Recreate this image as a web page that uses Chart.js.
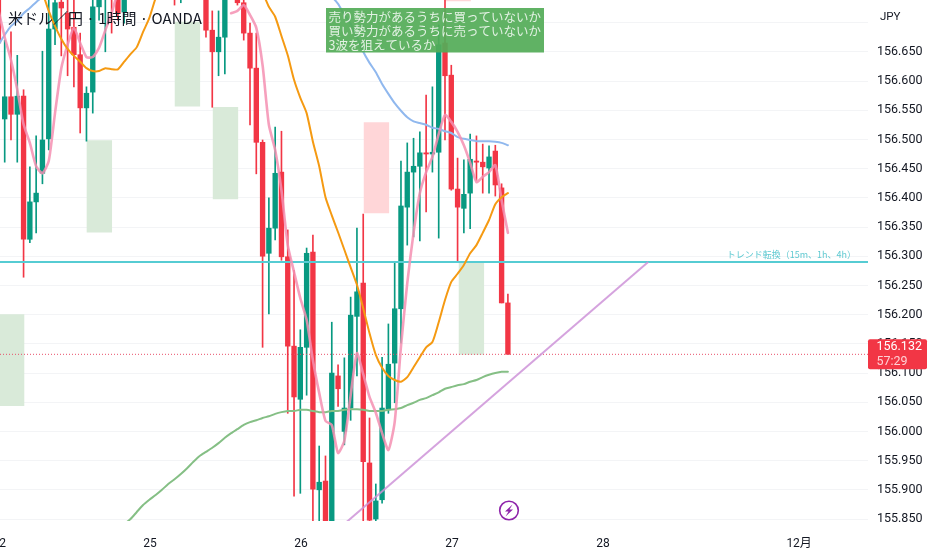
<!DOCTYPE html>
<html lang="ja"><head><meta charset="utf-8">
<style>html,body{margin:0;padding:0;background:#fff}canvas{display:block}</style>
<script src="https://cdn.jsdelivr.net/npm/chart.js@4"></script></head>
<body><canvas id="c" width="932" height="550"></canvas>
<script>
const N = null;
const opens = [156.739,156.535,156.573,156.543,156.574,156.329,156.393,156.442,156.501,156.689,
 156.735,156.716,156.692,156.645,156.554,156.581,156.727,156.756,156.773,156.756,
 156.718,N,N,N,N,N,N,N,156.80,156.76,
 N,N,N,156.78,156.687,156.650,156.675,N,156.747,156.734,
 156.682,156.622,156.495,156.305,156.348,156.444,156.299,156.146,156.055,156.144,
 156.307,155.900,155.915,155.831,156.095,156.000,156.040,156.197,156.254,155.946,
 155.850,155.883,156.038,156.117,156.210,156.384,156.444,156.454,156.477,156.475,
 156.478,156.665,156.610,156.415,156.382,156.408,156.463,156.461,156.451,156.480,
 156.417,156.220];
const highs = [156.74,156.670,156.684,156.644,156.585,156.453,156.506,156.651,156.74,156.75,
 156.76,156.75,156.75,156.682,156.590,156.75,156.77,156.80,156.80,156.78,
 156.78,N,N,N,N,N,N,N,156.82,156.82,
 N,N,N,156.80,156.72,156.72,156.80,N,156.77,156.76,
 156.699,156.682,156.499,156.400,156.521,156.514,156.345,156.276,156.174,156.314,
 156.336,155.975,155.958,156.187,156.114,156.126,156.230,156.348,156.372,156.023,
 155.910,156.127,156.184,156.288,156.463,156.494,156.502,156.513,156.576,156.590,
 156.696,156.74,156.627,156.468,156.465,156.509,156.506,156.492,156.489,156.490,
 156.424,156.235];
const lows = [156.636,156.461,156.499,156.461,156.264,156.323,156.340,156.424,156.482,156.662,
 156.643,156.609,156.590,156.511,156.497,156.545,156.704,156.650,156.682,156.704,
 156.699,N,N,N,N,N,N,N,156.730,156.734,
 N,N,N,156.675,156.555,156.609,156.612,N,156.730,156.670,
 156.525,156.441,156.144,156.201,156.328,156.293,156.031,155.889,155.894,156.062,
 155.843,155.843,155.82,155.82,156.043,155.977,156.019,156.095,155.843,155.83,
 155.83,155.877,156.031,156.049,156.151,156.319,156.333,156.326,156.376,156.444,
 156.331,156.499,156.413,156.290,156.340,156.347,156.430,156.408,156.408,156.403,
 156.220,156.132];
const closes = [156.665,156.573,156.543,156.574,156.329,156.393,156.408,156.499,156.689,156.734,
 156.725,156.689,156.645,156.554,156.579,156.727,156.747,156.790,156.747,156.716,
 156.764,N,N,N,N,N,N,N,156.76,156.80,
 N,N,N,156.687,156.650,156.675,156.76,N,156.734,156.682,
 156.622,156.495,156.300,156.348,156.442,156.299,156.146,156.059,156.144,156.305,
 155.901,155.913,155.831,156.100,156.073,156.040,156.199,156.239,155.948,155.848,
 155.881,156.040,156.115,156.210,156.386,156.444,156.454,156.477,156.475,156.478,
 156.662,156.609,156.415,156.384,156.406,156.466,156.461,156.453,156.470,156.422,
 156.220,156.132];
const pinkMA = [156.722,156.675,156.636,156.585,156.526,156.494,156.454,156.442,156.463,156.545,
 156.622,156.662,156.691,156.665,156.641,156.641,156.657,156.687,156.716,156.751,
 156.756,N,N,N,N,N,N,N,N,N,
 N,N,N,N,N,N,N,156.716,156.720,156.730,
 156.713,156.691,156.627,156.525,156.482,156.413,156.319,156.273,156.228,156.191,
 156.122,156.066,156.018,156.011,155.963,155.984,156.062,156.134,156.098,156.059,
 156.032,155.997,155.968,156.016,156.145,156.254,156.340,156.408,156.444,156.470,
 156.509,156.542,156.530,156.513,156.490,156.460,156.427,156.436,156.444,156.456,
 156.396,156.340];
const orangeMA = [N,N,N,N,N,N,N,156.752,156.720,156.694,
 156.672,156.655,156.643,156.633,156.622,156.617,156.617,156.622,156.620,156.620,
 156.633,156.646,156.658,156.684,156.708,156.742,156.764,N,N,N,
 N,N,N,N,N,N,N,N,N,N,
 N,156.764,156.751,156.727,156.710,156.677,156.644,156.602,156.571,156.545,
 156.496,156.454,156.401,156.370,156.341,156.311,156.281,156.251,156.211,156.168,
 156.131,156.109,156.095,156.088,156.085,156.093,156.110,156.127,156.144,156.153,
 156.187,156.225,156.256,156.270,156.285,156.305,156.319,156.340,156.362,156.389,
 156.401,156.408];
const blueMA = [156.662,156.679,156.694,156.703,156.716,156.725,156.735,156.744,N,N,
 N,N,N,N,N,N,N,N,N,N,
 N,N,N,N,N,N,N,N,N,N,
 N,N,N,N,N,N,N,N,N,N,
 N,N,N,N,N,N,N,N,N,N,
 N,N,156.752,156.744,156.732,156.713,156.698,156.675,156.650,156.631,
 156.615,156.595,156.578,156.562,156.549,156.538,156.531,156.528,156.525,156.520,
 156.518,156.514,156.511,156.504,156.501,156.499,156.497,156.497,156.497,156.496,
 156.494,156.490];
const greenMA = [N,N,N,N,N,N,N,N,N,N,
 N,N,N,N,N,N,N,N,N,N,
 155.841,155.850,155.862,155.874,155.883,155.891,155.900,155.910,155.918,155.927,
 155.937,155.948,155.958,155.965,155.972,155.980,155.989,155.997,156.004,156.011,
 156.016,156.019,156.023,156.026,156.030,156.033,156.035,156.035,156.037,156.037,
 156.035,156.033,156.033,156.035,156.035,156.037,156.038,156.038,156.037,156.035,
 156.035,156.035,156.037,156.038,156.040,156.045,156.049,156.054,156.057,156.062,
 156.067,156.073,156.076,156.079,156.081,156.085,156.088,156.093,156.097,156.100,
 156.102,156.102];
const greenZoneX = [2.1,16.05,30.05,36.1,75.2];
const greenZoneLow = [156.044,156.341,156.557,156.398,156.132];
const greenZoneHigh = [156.200,156.498,156.701,156.555,156.288];
const redZoneX = [60.1,73.1];
const redZoneLow = [156.374,156.737];
const redZoneHigh = [156.529,156.80];
const supportX = [55.26,103.3];
const supportY = [155.844,156.290];
const trendLevel = 156.29;
const lastPrice = 156.132;
const xMin = 0.253, xMax = 138.25;
const dayTicks = [0.65,24.1,48.1,72.1,96.1,127.3];
const dayLabels = ['2','25','26','27','28','12月'];

const RED='#f23645', GREEN='#089981', ui='Roboto, "Noto Sans CJK JP", sans-serif';
const jp='"Noto Sans CJK JP", sans-serif';
const idx = opens.map((_,i)=>i);
const live = idx.filter(i=>opens[i]!==null);
const colorOf = i => closes[i]>=opens[i]?GREEN:RED;
const noPad = s=>{s.paddingLeft=0;s.paddingRight=0;s.paddingTop=0;s.paddingBottom=0;};
const series = (arr,color,width,order)=>({type:'line',data:idx.map(i=>({x:i,y:arr[i]})),borderColor:color,borderWidth:width,
  pointRadius:0,tension:0.2,order,spanGaps:false,borderJoinStyle:'round',borderCapStyle:'round'});
const straight = (xs,ys,color,width,order,dash)=>({type:'line',data:xs.map((x,i)=>({x,y:ys[i]})),borderColor:color,borderWidth:width,
  pointRadius:0,tension:0,order,borderDash:dash||[]});
const zones = (xs,lo,hi,color)=>({type:'bar',grouped:false,barThickness:24.7,order:10,backgroundColor:color,borderWidth:0,
  data:xs.map((x,i)=>({x,y:[lo[i],hi[i]]}))});

const overlay = {id:'overlay',afterDraw(ch){
  const c=ch.ctx, y=ch.scales.y, a=ch.chartArea;
  c.save();
  c.textBaseline='middle'; c.textAlign='left';
  c.fillStyle='rgba(84,172,88,0.93)'; c.fillRect(326,8,218,44.5);
  c.fillStyle='rgba(255,255,255,0.82)'; c.font='12.5px '+jp;
  ['売り勢力があるうちに買っていないか','買い勢力があるうちに売っていないか','3波を狙えているか']
    .forEach((t,i)=>c.fillText(t,328.5,17.5+i*14));
  c.fillStyle='#131722'; c.font='15px '+jp;
  c.fillText('米ドル／円 · 1時間 · OANDA',8,18);
  c.font='11.5px '+ui; c.fillText('JPY',880,17);
  c.fillStyle='#5fc9d1'; c.font='9px '+jp; c.textAlign='right';
  c.fillText('トレンド転換（15m、1h、4h）',856,y.getPixelForValue(trendLevel)-7);
  const py=y.getPixelForValue(lastPrice);
  c.fillStyle=RED; c.beginPath(); c.roundRect(a.right,py-15,59,30,2); c.fill();
  c.textAlign='left'; c.fillStyle='#fff'; c.font='12.5px '+ui; c.fillText(lastPrice.toFixed(3),876.5,py-7);
  c.fillStyle='#ffd0d4'; c.fillText('57:29',876.5,py+8);
  c.strokeStyle='#8e24aa'; c.lineWidth=1.6; c.beginPath(); c.arc(509,510.5,9.3,0,Math.PI*2); c.stroke();
  c.fillStyle='#8e24aa'; c.beginPath();
  [[512.5,504.5],[505,511.5],[508.5,511.5],[505.5,516.5],[513,509.5],[509.5,509.5]].forEach((p,i)=>i?c.lineTo(p[0],p[1]):c.moveTo(p[0],p[1]));
  c.closePath(); c.fill();
  c.restore();
}};

new Chart(document.getElementById('c'),{
  type:'bar',
  data:{datasets:[
    zones(greenZoneX,greenZoneLow,greenZoneHigh,'#d9ead9'),
    zones(redZoneX,redZoneLow,redZoneHigh,'#ffd6d8'),
    {type:'bar',grouped:false,barThickness:1,order:6,borderWidth:0,
     backgroundColor:live.map(colorOf),data:live.map(i=>({x:i,y:[lows[i],highs[i]]}))},
    {type:'bar',grouped:false,barThickness:4.7,order:5,borderWidth:0,
     backgroundColor:live.map(colorOf),data:live.map(i=>({x:i,y:[opens[i],closes[i]]}))},
    straight([xMin,xMax],[lastPrice,lastPrice],'#e8506a',1,4,[1,2]),
    straight([xMin,xMax],[trendLevel,trendLevel],'#56ccd3',2,3.5),
    straight(supportX,supportY,'rgba(206,147,216,0.85)',2,3.4),
    series(greenMA,'#85bf85',2,3),
    series(blueMA,'#90b8ee',2,2.5),
    series(pinkMA,'rgba(244,143,177,0.85)',2.6,2),
    series(orangeMA,'#f59a12',2,1)
  ]},
  options:{
    responsive:false,animation:false,devicePixelRatio:1,
    layout:{padding:0},
    plugins:{legend:{display:false},tooltip:{enabled:false},title:{display:false}},
    events:[],
    scales:{
      x:{type:'linear',min:xMin,max:xMax,offset:false,
        afterBuildTicks:s=>{s.ticks=dayTicks.map(v=>({value:v}));},
        afterFit:s=>{s.height=29;noPad(s);},
        grid:{display:false},border:{display:false},
        ticks:{autoSkip:false,maxRotation:0,includeBounds:false,padding:8,color:'#131722',font:{family:ui,size:12},
          callback:(v,i)=>dayLabels[i]}},
      y:{type:'linear',position:'right',min:155.8466,max:156.7387,
        afterFit:s=>{s.width=64;noPad(s);},
        grid:{color:'#f3f4f6',lineWidth:1,drawTicks:false},border:{display:false},
        ticks:{stepSize:0.05,includeBounds:false,padding:9,color:'#131722',font:{family:ui,size:12.5},
          callback:v=>Math.abs(v-156.7)<1e-6?'':v.toFixed(3)}}
    }
  },
  plugins:[overlay]
});
</script></body></html>
